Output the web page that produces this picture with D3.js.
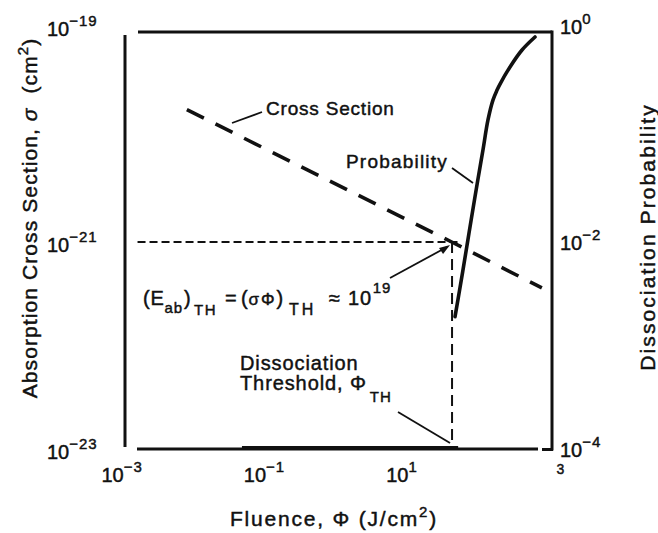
<!DOCTYPE html>
<html><head><meta charset="utf-8">
<script src="https://cdn.jsdelivr.net/npm/d3@7"></script>
<style>
body{margin:0;background:#fff}
svg{display:block}
text{font-family:"Liberation Sans",Arial,Helvetica,sans-serif;fill:#111;stroke:#111;stroke-width:0.45px}
</style></head><body><svg id="c" width="658" height="533"></svg>
<script>
// ---- data ----
const fluenceTicks = [1e-3, 1e-1, 1e1, 1e3];
const fluenceTickExp = ["\u22123", "\u22121", "1", "3"];
const sigmaTicks = [1e-19, 1e-21, 1e-23];
const sigmaTickExp = ["\u221219", "\u221221", "\u221223"];
const probTicks = [1e0, 1e-2, 1e-4];
const probTickExp = ["0", "\u22122", "\u22124"];

// absorption cross section (left axis), straight line in log-log
const csFluence = [0.0074, 39, 720];
const csSigma = [1.9e-20, 1.0e-21, 3.6e-22];

// dissociation probability (right axis)
const probFluence = [43.4, 55.7, 64.6, 73.1, 90.8, 107, 126, 148, 169, 186, 257, 379, 577];
const probValue = [1.9e-3, 5.2e-3, 9.7e-3, 0.0163, 0.040, 0.077, 0.151, 0.235, 0.294, 0.336, 0.491, 0.716, 0.956];
// probability below threshold (sits on the 10^-4 floor)
const probBaseFluence = [0.044, 48];
const probBaseValue = [1e-4, 1e-4];

// threshold
const thresholdFluence = 39.4;
const thresholdSigma = 1e-21;
const guideFluence = [0.0015, 47];

// ---- layout ----
const svg = d3.select("#c");
const x = d3.scaleLog().domain([1e-3, 1e3]).range([125, 552]);
const yL = d3.scaleLog().domain([1e-23, 1e-19]).range([449, 35]);
const yR = d3.scaleLog().domain([1e-4, 1e0]).range([449, 35]);
const ink = "#111";

// frame
const frame = svg.append("g").attr("stroke", ink).attr("stroke-width", 3).attr("fill", "none");
frame.append("line").attr("x1", x(1e-3)).attr("x2", x(1e-3)).attr("y1", yL(1e-19)).attr("y2", yL(1e-23) - 2);
frame.append("line").attr("x1", x(1e-3) + 13).attr("x2", x(1e3)).attr("y1", yL(1e-19) - 3).attr("y2", yL(1e-19) - 3);
frame.append("line").attr("x1", x(1e3)).attr("x2", x(1e3)).attr("y1", yL(1e-19) - 4.5).attr("y2", yL(1e-23) + 1.5);
frame.append("line").attr("x1", x(1e-3) + 12).attr("x2", x(1e3) - 14).attr("y1", yL(1e-23)).attr("y2", yL(1e-23));
frame.append("line").attr("x1", x(1e3) - 10).attr("x2", x(1e3) + 1).attr("y1", yL(1e-23) + 0.5).attr("y2", yL(1e-23) + 0.5);

// axes (tick positions from d3 axes, labels as 10^n)
function supLabel(sel, exp, baseSize, expSize, rise) {
  sel.append("tspan").attr("font-size", baseSize).text("10");
  sel.append("tspan").attr("font-size", expSize).attr("dy", -rise).attr("letter-spacing", 1).text(exp);
}
const xAxis = svg.append("g").attr("transform", `translate(0,${yL(1e-23)})`)
  .call(d3.axisBottom(x).tickValues(fluenceTicks).tickSize(0).tickFormat(""));
xAxis.select(".domain").remove();
xAxis.selectAll(".tick").each(function(d, i) {
  const g = d3.select(this);
  if (i === fluenceTicks.length - 1) {
    g.append("text").attr("x", 8).attr("y", 25).attr("font-size", 14).text(fluenceTickExp[i]);
  } else {
    const t = g.append("text").attr("x", -24).attr("y", 33).attr("text-anchor", "start");
    supLabel(t, fluenceTickExp[i], 20, 15, 10);
  }
});

const yAxisL = svg.append("g").attr("transform", `translate(${x(1e-3)},0)`)
  .call(d3.axisLeft(yL).tickValues(sigmaTicks).tickSize(0).tickFormat(""));
yAxisL.select(".domain").remove();
yAxisL.selectAll(".tick").each(function(d, i) {
  const t = d3.select(this).append("text").attr("x", -78).attr("y", i === 0 ? 0 : 9).attr("text-anchor", "start");
  supLabel(t, sigmaTickExp[i], 20, 15, 10);
});

const yAxisR = svg.append("g").attr("transform", `translate(${x(1e3)},0)`)
  .call(d3.axisRight(yR).tickValues(probTicks).tickSize(0).tickFormat(""));
yAxisR.select(".domain").remove();
yAxisR.selectAll(".tick").each(function(d, i) {
  const t = d3.select(this).append("text").attr("x", 8).attr("y", i === 0 ? -2 : 7).attr("text-anchor", "start");
  supLabel(t, probTickExp[i], 20, 15, 10);
});

// axis titles
svg.append("text").attr("transform", `translate(37,218) rotate(-90)`).attr("text-anchor", "middle")
  .attr("font-size", 21).attr("letter-spacing", 1.1)
  .call(t => {
    t.append("tspan").text("Absorption Cross Section, ");
    t.append("tspan").attr("font-style", "italic").text("\u03c3");
    t.append("tspan").text("\u00a0 (cm");
    t.append("tspan").attr("font-size", 15).attr("dy", -9).text("2");
    t.append("tspan").attr("dy", 9).text(")");
  });
svg.append("text").attr("transform", `translate(655,237) rotate(-90)`).attr("text-anchor", "middle")
  .attr("font-size", 21).attr("letter-spacing", 2.1).text("Dissociation Probability");
svg.append("text").attr("x", 334).attr("y", 526).attr("text-anchor", "middle")
  .attr("font-size", 21).attr("letter-spacing", 1.8)
  .call(t => {
    t.append("tspan").text("Fluence, \u03a6 (J/cm");
    t.append("tspan").attr("font-size", 15).attr("dy", -9).text("2");
    t.append("tspan").attr("dy", 9).text(")");
  });

// guide lines at threshold
svg.append("path")
  .datum(guideFluence.map(f => [f, thresholdSigma]))
  .attr("d", d3.line().x(d => x(d[0])).y(d => yL(d[1])))
  .attr("fill", "none").attr("stroke", ink).attr("stroke-width", 2).attr("stroke-dasharray", "8,4");
svg.append("path")
  .datum([[thresholdFluence, thresholdSigma], [thresholdFluence, 1e-23]])
  .attr("d", d3.line().x(d => x(d[0])).y(d => yL(d[1])))
  .attr("fill", "none").attr("stroke", ink).attr("stroke-width", 2).attr("stroke-dasharray", "11,6");

// cross section
svg.append("path")
  .datum(csFluence.map((f, i) => [f, csSigma[i]]))
  .attr("d", d3.line().x(d => x(d[0])).y(d => yL(d[1])))
  .attr("fill", "none").attr("stroke", ink).attr("stroke-width", 3.6).attr("stroke-dasharray", "19,13");

// probability
svg.append("path")
  .datum(probFluence.map((f, i) => [f, probValue[i]]))
  .attr("d", d3.line().curve(d3.curveCatmullRom.alpha(0.5)).x(d => x(d[0])).y(d => yR(d[1])))
  .attr("fill", "none").attr("stroke", ink).attr("stroke-width", 3.6).attr("stroke-linecap", "round");
svg.append("path")
  .datum(probBaseFluence.map((f, i) => [f, probBaseValue[i]]))
  .attr("d", d3.line().x(d => x(d[0])).y(d => yR(d[1]) - 1.5))
  .attr("fill", "none").attr("stroke", ink).attr("stroke-width", 3);

// annotations
const ann = svg.append("g").attr("stroke", ink).attr("stroke-width", 1.8);
ann.append("line").attr("x1", 232).attr("y1", 123).attr("x2", 262).attr("y2", 112);
ann.append("line").attr("x1", 452).attr("y1", 168).attr("x2", 473).attr("y2", 183);
ann.append("line").attr("x1", 398).attr("y1", 412).attr("x2", x(thresholdFluence) - 2).attr("y2", yL(1e-23) - 6);
const tipX = x(thresholdFluence) - 5, tipY = yL(thresholdSigma) + 5;
ann.append("line").attr("x1", 390).attr("y1", 278).attr("x2", tipX).attr("y2", tipY);
ann.append("path").attr("stroke", "none").attr("fill", ink)
  .attr("d", `M${tipX + 3},${tipY - 2} L${tipX - 8},${tipY + 1} L${tipX - 4},${tipY + 7} Z`);

svg.append("text").attr("x", 266).attr("y", 115).attr("font-size", 19).attr("letter-spacing", 0.8).text("Cross Section");
svg.append("text").attr("x", 346).attr("y", 168).attr("font-size", 19).attr("letter-spacing", 1.2).text("Probability");
svg.append("text").attr("x", 240).attr("y", 370).attr("font-size", 20).attr("letter-spacing", 0.9).text("Dissociation");
svg.append("text").attr("x", 240).attr("y", 390).attr("font-size", 20).attr("letter-spacing", 0.9)
  .call(t => {
    t.append("tspan").text("Threshold, \u03a6");
    t.append("tspan").attr("font-size", 15).attr("dy", 12).attr("dx", 3).text("TH");
  });
svg.append("text").attr("y", 305).attr("font-size", 20).attr("letter-spacing", 0.8)
  .call(t => {
    t.append("tspan").attr("x", 143).text("(E");
    t.append("tspan").attr("font-size", 15).attr("dy", 8).text("ab");
    t.append("tspan").attr("dy", -8).attr("dx", 1).text(")");
    t.append("tspan").attr("x", 194).attr("font-size", 15).attr("dy", 10).attr("letter-spacing", 1.5).text("TH");
    t.append("tspan").attr("x", 225).attr("dy", -10).text("=");
    t.append("tspan").attr("x", 241).text("(");
    t.append("tspan").attr("font-size", 17).attr("letter-spacing", 2).text("\u03c3\u03a6");
    t.append("tspan").text(")");
    t.append("tspan").attr("x", 289).attr("font-size", 16).attr("dy", 10).attr("letter-spacing", 3).text("TH");
    t.append("tspan").attr("x", 329).attr("dy", -10).text("\u2248");
    t.append("tspan").attr("x", 348).text("10");
    t.append("tspan").attr("font-size", 15).attr("dy", -12).attr("dx", 1).text("19");
  });
</script></body></html>
